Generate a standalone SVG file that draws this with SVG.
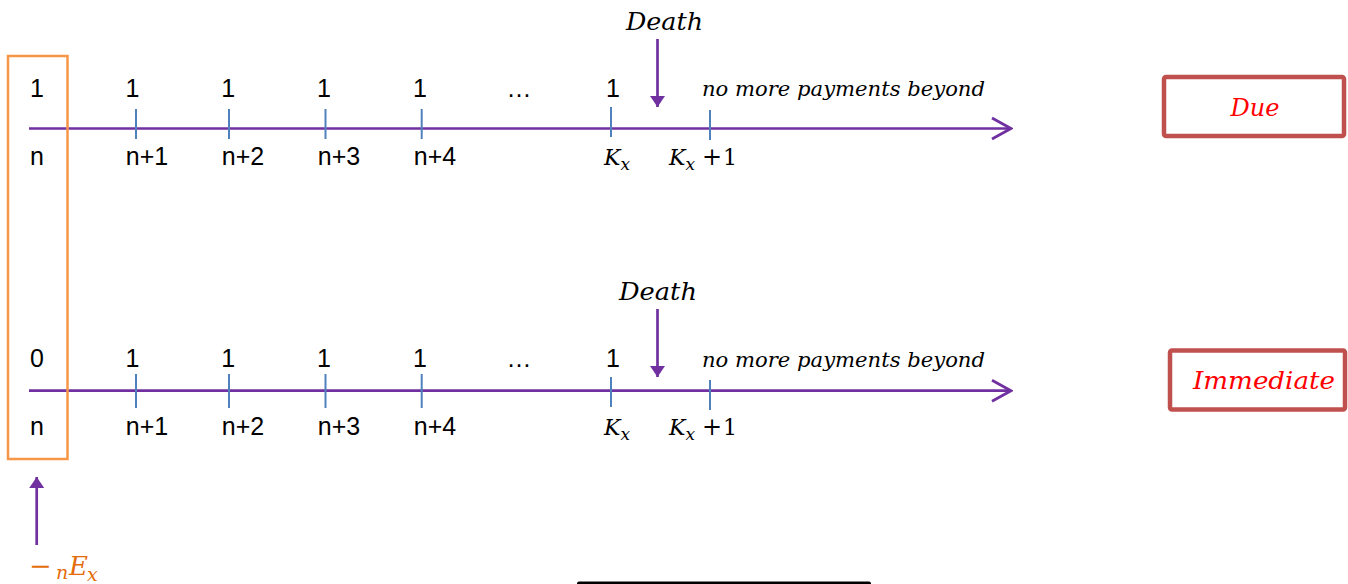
<svg xmlns="http://www.w3.org/2000/svg" width="1348" height="584" viewBox="0 0 1348 584">
<style>
.num{font-family:"Liberation Sans",Arial,sans-serif;font-size:25px;fill:#000;text-anchor:middle}
.math{font-family:"DejaVu Serif","Liberation Serif",serif;font-style:italic;fill:#000}
.up{font-style:normal}
.axis{stroke:#7030A0;stroke-width:2.7;fill:none}
.tick{stroke:#4F81BD;stroke-width:2}
.lbl{fill:#fff;stroke:#C0504D;stroke-width:4.5}
.lbltxt{font-family:"DejaVu Serif","Liberation Serif",serif;font-style:italic;fill:#FF0000;font-size:24px;text-anchor:middle}
.ex{font-family:"DejaVu Serif","Liberation Serif",serif;fill:#E46C0A}
</style>
<defs>
<marker id="open" markerWidth="22" markerHeight="26" refX="20" refY="13" orient="auto" markerUnits="userSpaceOnUse">
<path d="M1,2.5 L20,13 L1,23.5" fill="none" stroke="#7030A0" stroke-width="2.7"/>
</marker>
<marker id="solid" markerWidth="16" markerHeight="16" refX="11" refY="8" orient="auto" markerUnits="userSpaceOnUse">
<path d="M0,0.5 L11,8 L0,15.5 Z" fill="#7030A0"/>
</marker>
</defs>
<rect width="1348" height="584" fill="#fff"/>

<g id="connectors">
<line class="axis" x1="29" y1="128.5" x2="1011" y2="128.5" marker-end="url(#open)"/>
<line class="axis" x1="29" y1="390.7" x2="1011" y2="390.7" marker-end="url(#open)"/>
<line class="axis" x1="657.5" y1="39" x2="657.5" y2="107" marker-end="url(#solid)"/>
<line class="axis" x1="657.5" y1="309" x2="657.5" y2="377" marker-end="url(#solid)"/>
<line class="axis" x1="36.7" y1="545" x2="36.7" y2="477" marker-end="url(#solid)"/>
</g>

<g id="ticks-due">
<line class="tick" x1="136" y1="109" x2="136" y2="139"/>
<line class="tick" x1="229" y1="109" x2="229" y2="139"/>
<line class="tick" x1="325.5" y1="109" x2="325.5" y2="139"/>
<line class="tick" x1="421.7" y1="109" x2="421.7" y2="139"/>
<line class="tick" x1="611" y1="107" x2="611" y2="137"/>
<line class="tick" x1="710" y1="110" x2="710" y2="140"/>
</g>
<g id="ticks-immediate">
<line class="tick" x1="136" y1="374" x2="136" y2="408"/>
<line class="tick" x1="229" y1="374" x2="229" y2="408"/>
<line class="tick" x1="325.5" y1="374" x2="325.5" y2="408"/>
<line class="tick" x1="421.7" y1="374" x2="421.7" y2="408"/>
<line class="tick" x1="611" y1="377" x2="611" y2="407"/>
<line class="tick" x1="710" y1="380" x2="710" y2="410"/>
</g>

<g id="labels-due">
<text class="num" x="37" y="97">1</text>
<text class="num" x="132.5" y="97">1</text>
<text class="num" x="228.3" y="97">1</text>
<text class="num" x="324" y="97">1</text>
<text class="num" x="420" y="97">1</text>
<text class="num" x="519" y="97">…</text>
<text class="num" x="613" y="97">1</text>
<text class="num" x="37" y="165">n</text>
<text class="num" x="147" y="165">n+1</text>
<text class="num" x="243" y="165">n+2</text>
<text class="num" x="339" y="165">n+3</text>
<text class="num" x="435" y="165">n+4</text>
<text class="math" x="604" y="165" font-size="22">K<tspan font-size="17" dy="5">x</tspan></text>
<text class="math" x="669" y="165" font-size="22">K<tspan font-size="17" dy="5">x</tspan><tspan class="up" dy="-5" x="702" font-size="24">+</tspan><tspan class="up" x="723">1</tspan></text>
<text class="math" x="626" y="30" font-size="24" textLength="77" lengthAdjust="spacingAndGlyphs">Death</text>
<text class="math" x="702" y="96" font-size="20" textLength="283" lengthAdjust="spacingAndGlyphs">no more payments beyond</text>
</g>

<g id="labels-immediate">
<text class="num" x="37" y="367">0</text>
<text class="num" x="132.5" y="367">1</text>
<text class="num" x="228.3" y="367">1</text>
<text class="num" x="324" y="367">1</text>
<text class="num" x="420" y="367">1</text>
<text class="num" x="519" y="367">…</text>
<text class="num" x="613" y="367">1</text>
<text class="num" x="37" y="435">n</text>
<text class="num" x="147" y="435">n+1</text>
<text class="num" x="243" y="435">n+2</text>
<text class="num" x="339" y="435">n+3</text>
<text class="num" x="435" y="435">n+4</text>
<text class="math" x="604" y="435" font-size="22">K<tspan font-size="17" dy="5">x</tspan></text>
<text class="math" x="669" y="435" font-size="22">K<tspan font-size="17" dy="5">x</tspan><tspan class="up" dy="-5" x="702" font-size="24">+</tspan><tspan class="up" x="723">1</tspan></text>
<text class="math" x="619" y="300" font-size="24" textLength="78" lengthAdjust="spacingAndGlyphs">Death</text>
<text class="math" x="702" y="367" font-size="20" textLength="283" lengthAdjust="spacingAndGlyphs">no more payments beyond</text>
</g>

<g id="node-start-box">
<rect x="8" y="56" width="59.5" height="403" fill="none" stroke="#F79646" stroke-width="2.5"/>
</g>

<g id="node-due">
<rect class="lbl" x="1164" y="77" width="180" height="59" rx="2"/>
<text class="lbltxt" x="1255" y="116">Due</text>
</g>

<g id="node-immediate">
<rect class="lbl" x="1170" y="350.5" width="175" height="59" rx="2"/>
<text class="lbltxt" x="1264" y="389" textLength="142" lengthAdjust="spacingAndGlyphs">Immediate</text>
</g>

<g id="node-nEx">
<text class="ex" x="29" y="575" font-size="27">−</text>
<text class="ex" x="56" y="579" font-style="italic" font-size="19">n</text>
<text class="ex" x="69" y="575" font-style="italic" font-size="26">E</text>
<text class="ex" x="87" y="581" font-style="italic" font-size="19">x</text>
</g>

<rect x="577" y="581.5" width="294" height="10" rx="2" fill="#000"/>
</svg>
